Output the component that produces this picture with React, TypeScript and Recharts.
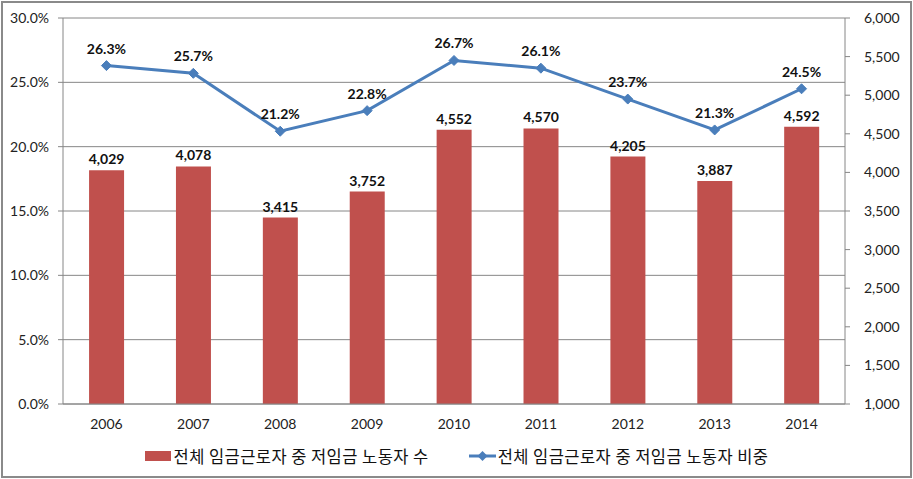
import { ComposedChart, Bar, Line, XAxis, YAxis, CartesianGrid, Legend, LabelList } from 'recharts'

const years = ['2006', '2007', '2008', '2009', '2010', '2011', '2012', '2013', '2014']
const lowWageWorkers = [4029, 4078, 3415, 3752, 4552, 4570, 4205, 3887, 4592]
const lowWageShare = [26.3, 25.7, 21.2, 22.8, 26.7, 26.1, 23.7, 21.3, 24.5]
const shareTicks = [0, 5, 10, 15, 20, 25, 30]
const countTicks = [1000, 1500, 2000, 2500, 3000, 3500, 4000, 4500, 5000, 5500, 6000]
const boundaryTicks = [0, 1, 2, 3, 4, 5, 6, 7, 8, 9]

const BAR_NAME = '전체 임금근로자 중 저임금 노동자 수'
const LINE_NAME = '전체 임금근로자 중 저임금 노동자 비중'

const data = years.map((year, i) => ({
  year,
  idx: i + 0.5,
  count: lowWageWorkers[i],
  share: lowWageShare[i],
}))

const RED = '#C0504D'
const BLUE = '#4A7EBB'
const GRID = '#868686'
const tickFont = { fontFamily: 'Lato, "Noto Sans", sans-serif', fontSize: 14, fill: '#222' }
const labelFont = { fontFamily: 'Lato, "Noto Sans", sans-serif', fontSize: 14, fontWeight: 700, fill: '#111' }

const Diamond = (props: any) => {
  const { cx, cy } = props
  if (cx == null || cy == null) return <g />
  const r = 5
  return (
    <polygon
      points={`${cx},${cy - r} ${cx + r},${cy} ${cx},${cy + r} ${cx - r},${cy}`}
      fill={BLUE}
      stroke={BLUE}
    />
  )
}

// bar entry first, as in the original legend
const renderLegend = (props: any) => {
  const items = [...(props.payload || [])].sort((a: any, b: any) =>
    a.type === 'rect' ? -1 : b.type === 'rect' ? 1 : 0
  )
  return (
    <div
      style={{
        display: 'flex',
        justifyContent: 'center',
        gap: 40,
        fontFamily: '"Noto Sans CJK KR", sans-serif',
        fontSize: 16.5,
        letterSpacing: 0.45,
        lineHeight: '30px',
        color: '#111',
      }}
    >
      {items.map((entry: any) => (
        <div key={entry.value} style={{ display: 'flex', alignItems: 'center' }}>
          {entry.type === 'rect' ? (
            <svg width={26} height={10} style={{ marginRight: 3 }}>
              <rect x={0} y={0} width={26} height={10} fill={RED} />
            </svg>
          ) : (
            <svg width={27} height={12} style={{ marginRight: 2 }}>
              <line x1={0} y1={6} x2={27} y2={6} stroke={BLUE} strokeWidth={3} />
              <polygon points="13.5,1 18.5,6 13.5,11 8.5,6" fill={BLUE} />
            </svg>
          )}
          <span>{entry.value}</span>
        </div>
      ))}
    </div>
  )
}

export default function App() {
  return (
    <div style={{ position: 'absolute', left: 0, top: 0, width: 913, height: 479, background: '#fff' }}>
      <ComposedChart
        width={913}
        height={479}
        data={data}
        margin={{ top: 18, right: 8, left: 8, bottom: 8 }}
        barCategoryGap="30%"
      >
        <CartesianGrid yAxisId="left" vertical={false} stroke={GRID} />
        <XAxis
          xAxisId="bounds"
          type="number"
          dataKey="idx"
          domain={[0, 9]}
          ticks={boundaryTicks}
          height={0}
          axisLine={false}
          tick={false}
          tickLine={{ stroke: GRID }}
          tickSize={5}
        />
        <XAxis
          xAxisId="cat"
          dataKey="year"
          height={37}
          stroke={GRID}
          tickLine={false}
          tick={tickFont}
          tickMargin={9}
        />
        <YAxis
          yAxisId="left"
          domain={[0, 30]}
          ticks={shareTicks}
          width={55}
          stroke={GRID}
          tick={tickFont}
          tickSize={5}
          tickMargin={9}
          tickFormatter={(v: number) => `${v.toFixed(1)}%`}
        />
        <YAxis
          yAxisId="right"
          orientation="right"
          domain={[1000, 6000]}
          ticks={countTicks}
          width={60}
          stroke={GRID}
          tick={tickFont}
          tickSize={5}
          tickMargin={14}
          tickFormatter={(v: number) => v.toLocaleString('en-US')}
        />
        <Legend verticalAlign="bottom" height={30} content={renderLegend} />
        <Bar
          xAxisId="cat"
          yAxisId="right"
          dataKey="count"
          name={BAR_NAME}
          fill={RED}
          legendType="rect"
          isAnimationActive={false}
        >
          <LabelList
            dataKey="count"
            position="top"
            offset={6}
            style={labelFont}
            formatter={(v: any) => Number(v).toLocaleString('en-US')}
          />
        </Bar>
        <Line
          xAxisId="cat"
          yAxisId="left"
          dataKey="share"
          name={LINE_NAME}
          stroke={BLUE}
          strokeWidth={3}
          dot={<Diamond />}
          activeDot={false}
          legendType="diamond"
          isAnimationActive={false}
        >
          <LabelList
            dataKey="share"
            position="top"
            offset={12}
            style={labelFont}
            formatter={(v: any) => `${Number(v).toFixed(1)}%`}
          />
        </Line>
      </ComposedChart>
      <div
        style={{
          position: 'absolute',
          left: 1,
          top: 1,
          width: 907,
          height: 473,
          border: '2px solid #8a8a8a',
          pointerEvents: 'none',
        }}
      />
    </div>
  )
}
